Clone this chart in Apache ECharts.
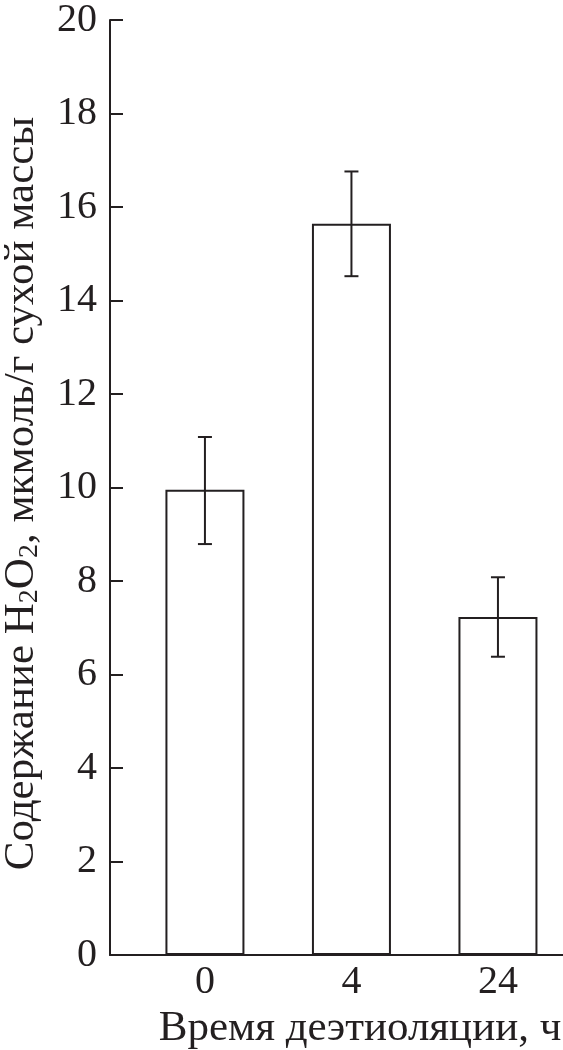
<!DOCTYPE html>
<html>
<head>
<meta charset="utf-8">
<script src="https://cdn.jsdelivr.net/npm/echarts@6/dist/echarts.min.js"></script>
<style>
html,body{margin:0;padding:0;background:#fff;}
#chart{width:563px;height:1050px;}
</style>
</head>
<body>
<div id="chart"></div>
<script>
var categories = ['0', '4', '24'];
var values = [9.95, 15.64, 7.23];
var errLow = [8.79, 14.52, 6.38];
var errHigh = [11.08, 16.76, 8.08];
var yTicks = {min: 0, max: 20, interval: 2};

var ink = '#231f20';
var font = '"Liberation Serif", "Times New Roman", serif';

var chart = echarts.init(document.getElementById('chart'));
var barData = values.map(function (v, i) { return [i, v]; });
var errData = values.map(function (v, i) { return [i, errLow[i], errHigh[i]]; });

chart.setOption({
  animation: false,
  backgroundColor: '#fff',
  grid: {left: 110, right: 0, top: 20, bottom: 95, containLabel: false, outerBoundsMode: 'none'},
  xAxis: {
    type: 'value',
    min: -0.648,
    max: 2.444,
    name: 'Время деэтиоляции, ч',
    nameLocation: 'middle',
    nameGap: 39,
    nameTextStyle: {fontFamily: font, fontSize: 43, color: ink, verticalAlign: 'top', padding: [0, 0, 0, 47]},
    axisLine: {show: true, onZero: false, lineStyle: {color: ink, width: 2}},
    axisTick: {show: false},
    splitLine: {show: false},
    axisLabel: {
      customValues: [0, 1, 2],
      formatter: function (v) { return categories[Math.round(v)]; },
      fontFamily: font, fontSize: 40, color: ink, margin: 7
    }
  },
  yAxis: {
    type: 'value',
    min: yTicks.min,
    max: yTicks.max,
    interval: yTicks.interval,
    name: '{n|Содержание H}{s|2}{n|O}{s|2}{n|, мкмоль/г сухой массы}',
    nameLocation: 'middle',
    nameGap: 66,
    nameTextStyle: {
      padding: [0, 12, 0, 0],
      rich: {
        n: {fontFamily: font, fontSize: 43, color: ink},
        s: {fontFamily: font, fontSize: 28, color: ink, padding: [16, 0, 0, 0]}
      }
    },
    axisLine: {show: true, onZero: false, lineStyle: {color: ink, width: 2}},
    axisTick: {show: true, inside: true, length: 13, lineStyle: {color: ink, width: 2}},
    splitLine: {show: false},
    axisLabel: {fontFamily: font, fontSize: 40, color: ink, margin: 13}
  },
  series: [
    {
      type: 'bar',
      data: barData,
      barWidth: 79,
      itemStyle: {color: '#fff', borderColor: ink, borderWidth: 2},
      z: 2
    },
    {
      type: 'custom',
      data: errData,
      encode: {x: 0, y: [1, 2]},
      z: 3,
      renderItem: function (params, api) {
        var x = api.value(0);
        var lo = api.coord([x, api.value(1)]);
        var hi = api.coord([x, api.value(2)]);
        var hw = 7;
        var st = {stroke: ink, lineWidth: 2, fill: null};
        return {
          type: 'group',
          children: [
            {type: 'line', shape: {x1: hi[0], y1: hi[1], x2: lo[0], y2: lo[1]}, style: st},
            {type: 'line', shape: {x1: hi[0] - hw, y1: hi[1], x2: hi[0] + hw, y2: hi[1]}, style: st},
            {type: 'line', shape: {x1: lo[0] - hw, y1: lo[1], x2: lo[0] + hw, y2: lo[1]}, style: st}
          ]
        };
      }
    }
  ]
});
</script>
</body>
</html>
